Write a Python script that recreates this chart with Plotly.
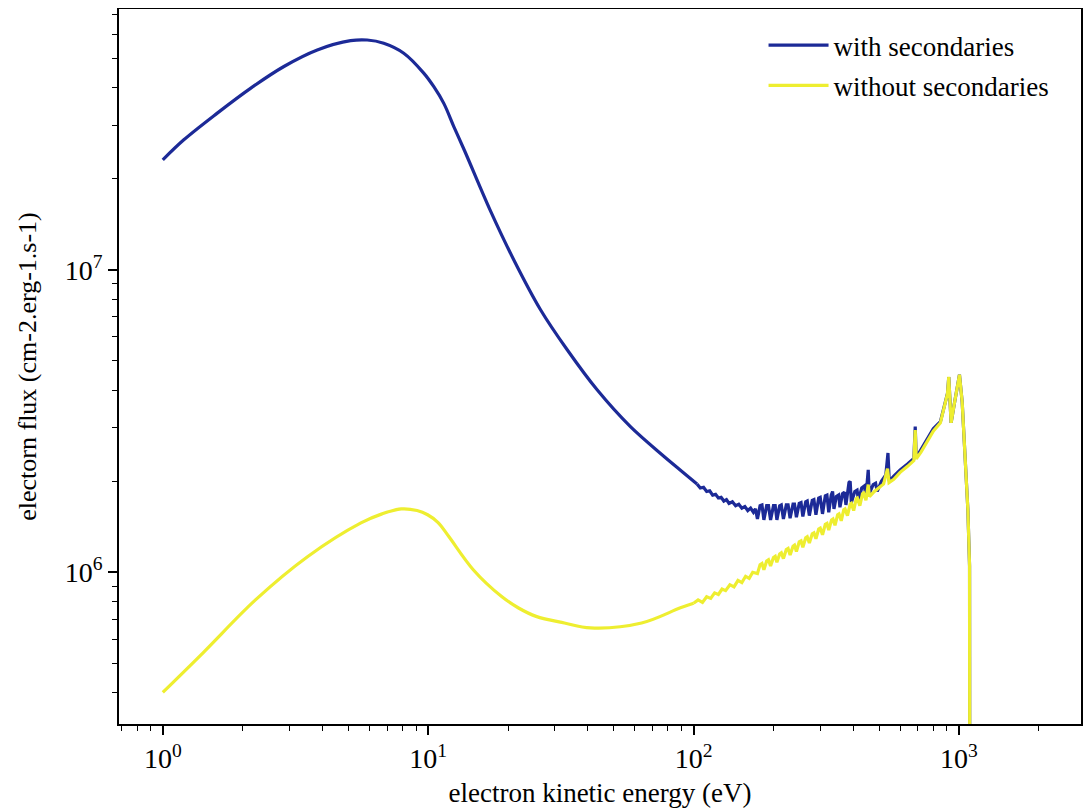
import plotly.graph_objects as go

# ---------------- data ----------------
# smooth low-energy part of "with secondaries"
energy_with_smooth = [
    1.0, 1.2, 1.6, 2.14, 2.86, 3.82, 5.1, 5.89, 6.8, 8.09, 9.62, 10.5, 11.45,
    12.5, 13.7, 17.2, 21.0, 26.5, 33.4, 43.3, 57.8, 77.2, 89, 103,
]
flux_with_smooth = [
    2.31e7, 2.69e7, 3.29e7, 3.98e7, 4.70e7, 5.33e7, 5.72e7, 5.75e7, 5.61e7,
    5.20e7, 4.47e7, 4.03e7, 3.55e7,
    2.97e7, 2.48e7, 1.56e7, 1.08e7, 7.38e6, 5.44e6, 4.01e6, 3.03e6, 2.42e6,
    2.18e6, 1.96e6,
]
# oscillating high-energy part of "with secondaries"
energy_with_osc = [
    103, 106, 109, 112, 115, 118, 121, 124, 127, 130, 133, 136, 140, 144, 148,
    152, 156, 160, 164, 168, 171,
    174, 178, 181, 184, 188.5, 191.5, 195, 200, 203, 206, 211, 214,
    218, 223.5, 227, 231, 237, 240, 244, 250, 254, 258, 264.5, 268,
    273, 280, 284, 289, 296, 300, 306, 313.5, 318, 323,
    330, 334, 338, 345, 352, 356, 364, 370, 375, 385, 389, 393,
    405, 413, 418, 430, 440, 446, 455, 459, 475, 485, 492, 510, 530,
    540, 546, 568, 600, 640, 676, 684, 690, 720, 760, 800, 851, 889,
    905, 915, 934, 960, 985, 1004, 1028, 1058, 1080, 1096, 1100,
]
flux_with_osc = [
    1.96e6, 1.90e6, 1.91e6, 1.85e6, 1.86e6, 1.80e6, 1.81e6, 1.76e6, 1.77e6, 1.72e6,
    1.74e6, 1.69e6, 1.71e6, 1.66e6, 1.68e6,
    1.63e6, 1.65e6, 1.60e6, 1.63e6, 1.58e6, 1.62e6,
    1.50e6, 1.66e6, 1.67e6, 1.49e6, 1.66e6, 1.66e6, 1.49e6, 1.66e6, 1.66e6,
    1.49e6, 1.66e6, 1.67e6,
    1.50e6, 1.67e6, 1.67e6, 1.51e6, 1.68e6, 1.68e6, 1.52e6, 1.69e6, 1.70e6,
    1.53e6, 1.71e6, 1.72e6,
    1.54e6, 1.73e6, 1.74e6, 1.55e6, 1.76e6, 1.77e6, 1.56e6, 1.79e6, 1.80e6,
    1.58e6,
    1.80e6, 1.85e6, 1.62e6, 1.78e6, 1.80e6, 1.64e6, 1.82e6, 1.84e6, 1.67e6,
    1.98e6, 2.00e6, 1.70e6,
    1.85e6, 1.87e6, 1.73e6, 1.90e6, 1.93e6, 1.78e6, 2.18e6, 1.82e6, 1.95e6,
    1.97e6, 1.85e6, 2.00e6, 2.10e6,
    2.48e6, 2.00e6, 2.08e6, 2.18e6, 2.28e6, 2.38e6, 3.03e6, 2.40e6, 2.55e6,
    2.75e6, 2.98e6, 3.15e6, 3.65e6,
    3.90e6, 4.42e6, 3.12e6, 3.60e6, 4.10e6, 4.50e6, 3.65e6, 2.36e6, 1.61e6,
    1.05e6, 1.0e4,
]

# smooth low-energy part of "without secondaries"
energy_without_smooth = [
    1.0, 1.418, 2.24, 3.53, 5.58, 6.7, 7.92, 9.08, 9.95, 10.9, 11.94, 14.78,
    18.86, 21.9, 25.5, 32.6, 40.9, 63.7, 89.2, 100,
]
flux_without_smooth = [
    4.01e5, 5.42e5, 8.12e5, 1.13e6, 1.456e6, 1.56e6, 1.62e6, 1.60e6, 1.55e6,
    1.46e6, 1.315e6, 1.02e6,
    8.33e5, 7.62e5, 7.15e5, 6.80e5, 6.55e5, 6.80e5, 7.63e5, 7.90e5,
]
# oscillating high-energy part of "without secondaries"
energy_without_osc = [
    100, 104, 108, 112, 116, 120, 124, 128, 132, 137, 142, 147, 152, 157,
    162, 167,
    174, 178, 181, 184, 188.5, 191.5, 195, 200, 203, 206, 211, 214,
    218, 223.5, 227, 231, 237, 240, 244, 250, 254, 258, 264.5, 268,
    273, 280, 284, 289, 296, 300, 306, 313.5, 318, 323, 331, 335,
    341, 349, 353, 360, 368, 372, 380, 389, 393, 401, 410, 414,
    423, 433, 437, 446, 455, 460,
    480, 500, 520, 538, 545, 568, 600, 640, 676, 684, 690, 720, 760, 800,
    851, 889, 905, 915, 934, 960, 985, 1004, 1028, 1058, 1080, 1096, 1100,
]
flux_without_osc = [
    7.90e5, 8.10e5, 7.95e5, 8.30e5, 8.20e5, 8.55e5, 8.45e5, 8.80e5, 8.70e5,
    9.10e5, 8.95e5, 9.40e5, 9.25e5, 9.70e5,
    9.55e5, 1.00e6,
    0.99e6, 1.06e6, 1.07e6, 1.02e6, 1.09e6, 1.10e6, 1.05e6, 1.12e6, 1.13e6,
    1.08e6, 1.15e6, 1.16e6,
    1.11e6, 1.19e6, 1.20e6, 1.14e6, 1.22e6, 1.23e6, 1.17e6, 1.26e6, 1.27e6,
    1.21e6, 1.30e6, 1.31e6,
    1.25e6, 1.34e6, 1.35e6, 1.29e6, 1.39e6, 1.40e6, 1.33e6, 1.44e6, 1.45e6,
    1.38e6, 1.49e6, 1.50e6,
    1.43e6, 1.55e6, 1.56e6, 1.48e6, 1.61e6, 1.62e6, 1.54e6, 1.68e6, 1.69e6,
    1.60e6, 1.75e6, 1.76e6,
    1.66e6, 1.82e6, 1.83e6, 1.73e6, 1.95e6, 1.78e6,
    1.85e6, 1.90e6, 1.96e6, 2.20e6, 1.98e6, 2.03e6, 2.14e6, 2.24e6, 2.34e6,
    2.95e6, 2.37e6, 2.50e6, 2.70e6, 2.93e6,
    3.12e6, 3.60e6, 3.90e6, 4.43e6, 3.12e6, 3.60e6, 4.10e6, 4.50e6, 3.65e6,
    2.36e6, 1.61e6, 1.05e6, 1.0e4,
]

x_major = [1, 10, 100, 1000]
x_major_text = ["10<sup>0</sup>", "10<sup>1</sup>", "10<sup>2</sup>", "10<sup>3</sup>"]
y_major = [1e6, 1e7]
y_major_text = ["10<sup>6</sup>", "10<sup>7</sup>"]

x_minor = [m * 10 ** k for k in range(-1, 4) for m in range(2, 10)]
y_minor = [m * 10 ** k for k in range(5, 8) for m in range(2, 10)]

BLUE = "#1c2a97"
YELLOW = "#eeee30"
FONT = "Liberation Serif"

# ---------------- figure ----------------
fig = go.Figure()
fig.add_trace(go.Scatter(
    x=energy_with_smooth, y=flux_with_smooth, mode="lines",
    name="with secondaries", legendgroup="with",
    line=dict(color=BLUE, width=3.2, shape="spline", smoothing=1.0),
))
fig.add_trace(go.Scatter(
    x=energy_with_osc, y=flux_with_osc, mode="lines",
    name="with secondaries", legendgroup="with", showlegend=False,
    line=dict(color=BLUE, width=3.2),
))
fig.add_trace(go.Scatter(
    x=energy_without_smooth, y=flux_without_smooth, mode="lines",
    name="without secondaries", legendgroup="without",
    line=dict(color=YELLOW, width=3.2, shape="spline", smoothing=1.0),
))
fig.add_trace(go.Scatter(
    x=energy_without_osc, y=flux_without_osc, mode="lines",
    name="without secondaries", legendgroup="without", showlegend=False,
    line=dict(color=YELLOW, width=3.2),
))

axis_common = dict(
    showline=True, linecolor="black", linewidth=1.6, mirror=True,
    ticks="outside", ticklen=9, tickwidth=1.5, tickcolor="black",
    showgrid=False, zeroline=False, automargin=False,
    tickfont=dict(family=FONT, size=28, color="black"),
)

# the page body adds an 8 px offset, so the figure is sized to fit the window
fig.update_layout(
    width=1084, height=804,
    margin=dict(l=111, r=11, t=1, b=88),
    paper_bgcolor="white", plot_bgcolor="white",
    font=dict(family=FONT, size=26, color="black"),
    showlegend=True,
    legend=dict(x=0.670, y=0.983, xanchor="left", yanchor="top",
                bgcolor="rgba(0,0,0,0)", font=dict(family=FONT, size=27),
                itemwidth=60, tracegroupgap=2),
    xaxis=dict(
        type="log", range=[-0.165, 3.4597],
        tickvals=x_major, ticktext=x_major_text,
        minor=dict(tickvals=x_minor, ticks="outside", ticklen=5, tickwidth=1.2,
                   tickcolor="black", showgrid=False),
        title=dict(text="electron kinetic energy (eV)", standoff=10,
                   font=dict(family=FONT, size=27, color="black")),
        **axis_common,
    ),
    yaxis=dict(
        type="log", range=[5.4985, 7.8622],
        tickvals=y_major, ticktext=y_major_text,
        minor=dict(tickvals=y_minor, ticks="outside", ticklen=5, tickwidth=1.2,
                   tickcolor="black", showgrid=False),
        title=dict(text="electorn flux (cm-2.erg-1.s-1)", standoff=21,
                   font=dict(family=FONT, size=26, color="black")),
        **axis_common,
    ),
)

fig.write_html("out.html")
